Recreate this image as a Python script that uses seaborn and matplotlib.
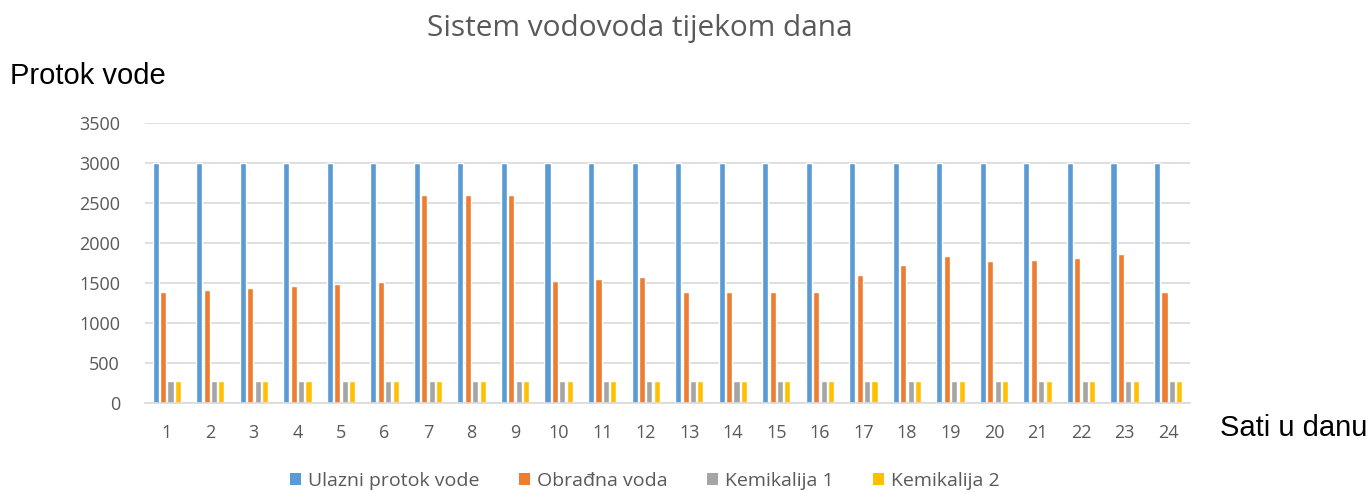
import matplotlib
matplotlib.use("Agg")
import matplotlib.pyplot as plt
from matplotlib.patches import Patch
import seaborn as sns
import pandas as pd

hours = list(range(1, 25))
ulazni = [3000] * 24
obradna = [1390, 1410, 1435, 1460, 1485, 1510, 2600, 2600, 2600, 1530, 1555, 1580,
           1390, 1390, 1390, 1390, 1605, 1725, 1840, 1770, 1790, 1815, 1865, 1390]
kem1 = [270] * 24
kem2 = [270] * 24
series_names = ["Ulazni protok vode", "Obrađna voda", "Kemikalija 1", "Kemikalija 2"]
colors = ["#5B9BD5", "#ED7D31", "#A5A5A5", "#FFC000"]

rows = []
for name, vals in zip(series_names, [ulazni, obradna, kem1, kem2]):
    for h, v in zip(hours, vals):
        rows.append({"Sat": str(h), "Serija": name, "Vrijednost": v})
df = pd.DataFrame(rows)

sns.set_theme(style="white")
plt.rcParams["font.family"] = ["Open Sans", "DejaVu Sans"]

fig = plt.figure(figsize=(13.72, 4.92), dpi=100)
ax = fig.add_axes([0.1057, 0.1809, 0.7616, 0.5691])

sns.barplot(data=df, x="Sat", y="Vrijednost", hue="Serija", palette=colors,
            order=[str(h) for h in hours], hue_order=series_names,
            width=0.68, gap=0.18, ax=ax, legend=False, saturation=1)

ax.set_ylim(0, 3500)
ax.set_yticks(range(0, 3501, 500))
ax.yaxis.grid(True, color="#D9D9D9", linewidth=1.2)
ax.set_axisbelow(True)
for s in ["top", "right", "left"]:
    ax.spines[s].set_visible(False)
ax.spines["bottom"].set_color("#D9D9D9")
ax.spines["bottom"].set_linewidth(1.2)
ax.tick_params(axis="y", length=0, pad=18, labelsize=13, labelcolor="#595959")
ax.tick_params(axis="x", length=0, pad=15, labelsize=13, labelcolor="#595959")
ax.set_xlabel("")
ax.set_ylabel("")
ax.set_xlim(-0.5, 23.5)

fig.text(0.466, 0.943, "Sistem vodovoda tijekom dana", ha="center", va="center",
         fontsize=21.5, color="#595959")
fig.text(0.007, 0.846, "Protok vode", ha="left", va="center", fontsize=21,
         color="black", family=["Liberation Sans", "DejaVu Sans"])
fig.text(0.889, 0.13, "Sati u danu", ha="left", va="center", fontsize=21,
         color="black", family=["Liberation Sans", "DejaVu Sans"])

handles = [Patch(facecolor=c, edgecolor="none") for c in colors]
leg = fig.legend(handles, series_names, loc="center", bbox_to_anchor=(0.47, 0.022),
                 ncol=4, frameon=False, fontsize=14, handlelength=0.6,
                 handleheight=0.6, handletextpad=0.35, columnspacing=2.0)
for t in leg.get_texts():
    t.set_color("#595959")

fig.savefig("out.png", dpi=100)
